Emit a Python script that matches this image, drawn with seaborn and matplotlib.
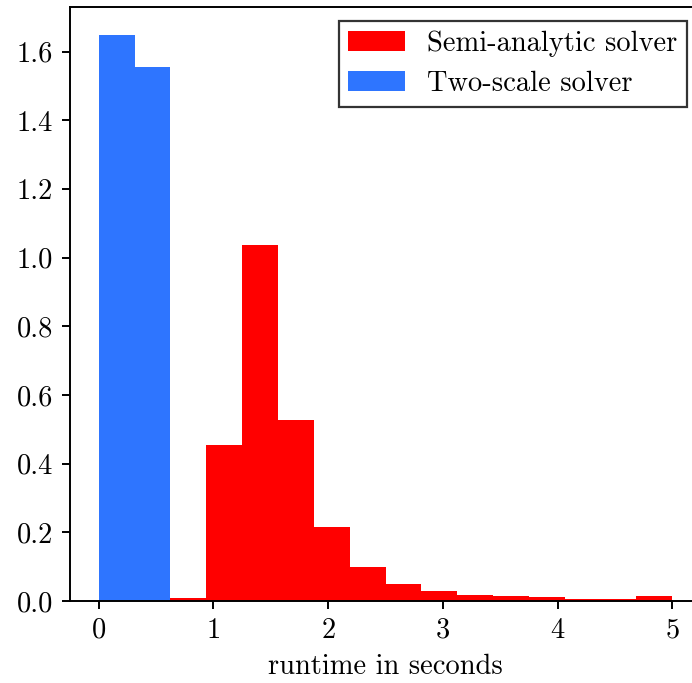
import numpy as np
import pandas as pd
import matplotlib
matplotlib.use("Agg")
import matplotlib.pyplot as plt
import seaborn as sns

# Histogram bins: 16 bins over 0..5 seconds
n_bins = 16
bin_range = (0, 5)
bin_centers = [0.15625, 0.46875, 0.78125, 1.09375, 1.40625, 1.71875, 2.03125, 2.34375,
               2.65625, 2.96875, 3.28125, 3.59375, 3.90625, 4.21875, 4.53125, 4.84375]

# Density heights
semi_analytic = [0.0, 0.0, 0.0087, 0.453, 1.036, 0.527, 0.215, 0.099,
                 0.0495, 0.029, 0.0165, 0.0136, 0.0116, 0.0068, 0.0068, 0.0136]
two_scale = [1.648, 1.555, 0, 0, 0, 0, 0, 0, 0, 0, 0, 0, 0, 0, 0, 0]

labels = ["Semi-analytic solver", "Two-scale solver"]
colors = ["#ff0000", "#2e75ff"]
xticks = [0, 1, 2, 3, 4, 5]
yticks = [0.0, 0.2, 0.4, 0.6, 0.8, 1.0, 1.2, 1.4, 1.6]

sns.set_style("ticks")
plt.rcParams["font.family"] = ["cmr10", "DejaVu Serif"]
plt.rcParams["mathtext.fontset"] = "cm"
plt.rcParams["axes.formatter.use_mathtext"] = True
plt.rcParams["axes.unicode_minus"] = False
plt.rcParams["text.color"] = "black"
plt.rcParams["axes.labelcolor"] = "black"
plt.rcParams["xtick.color"] = "black"
plt.rcParams["ytick.color"] = "black"

FS = 20.5

fig = plt.figure(figsize=(6.92, 6.83), dpi=100)
ax = fig.add_axes([70 / 692, 82 / 683, 631 / 692, 594 / 683])

for vals, lab, col in zip([semi_analytic, two_scale], labels, colors):
    df = pd.DataFrame({"runtime": bin_centers, "density": vals})
    sns.histplot(data=df, x="runtime", weights="density", bins=n_bins,
                 binrange=bin_range, color=col, alpha=1.0, edgecolor="none",
                 linewidth=0, label=lab, ax=ax, stat="count")

ax.set_xticks(xticks)
ax.set_yticks(yticks)
ax.set_yticklabels([f"{v:.1f}" for v in yticks])
ax.set_xlim(-0.25, 5.25)
ax.set_ylim(0, 1.648 * 1.05)
ax.set_ylabel("")
ax.set_xlabel("runtime in seconds", fontsize=FS, labelpad=7, color="black")
ax.tick_params(axis="both", labelsize=FS, length=6, width=1.4, direction="out",
               color="black", labelcolor="black", pad=6)
for side in ["left", "bottom", "top", "right"]:
    ax.spines[side].set_linewidth(1.4)
    ax.spines[side].set_color("black")

leg = ax.legend(loc="upper right", fontsize=FS, fancybox=False, framealpha=1,
                edgecolor="#333333", borderpad=0.32, handletextpad=0.8,
                borderaxespad=0.5)
leg.get_frame().set_linewidth(1.6)
for t in leg.get_texts():
    t.set_color("black")

fig.savefig("out.png", dpi=100)
